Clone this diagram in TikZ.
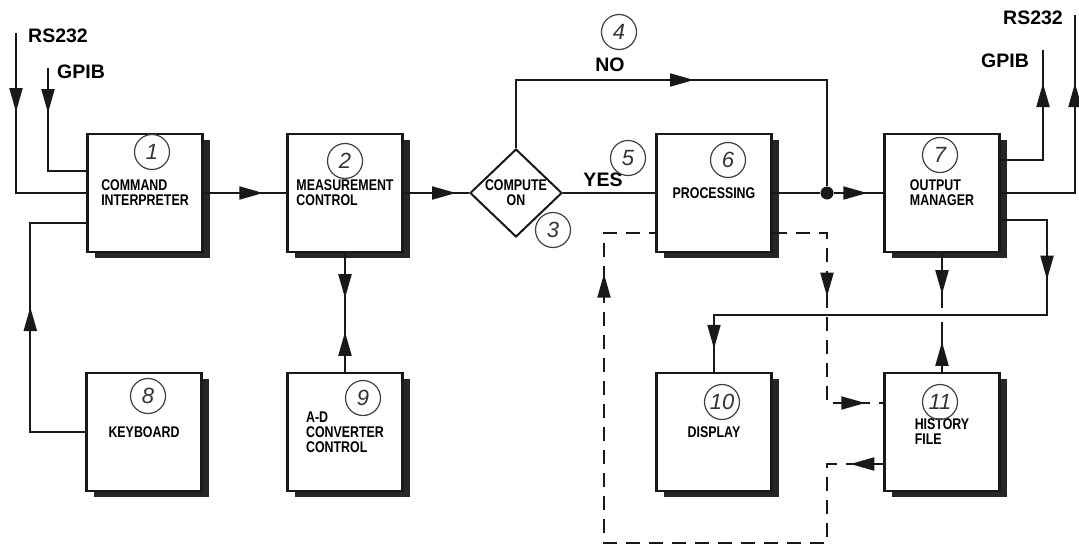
\documentclass[tikz,border=0pt]{standalone}
\usepackage{fontspec}
\setmainfont{Liberation Sans}
\newfontfamily\estrecha[FakeStretch=0.8]{Liberation Sans}
\usetikzlibrary{arrows.meta,shapes.geometric,shadows,decorations.markings,calc}
\tikzset{
  >={Triangle[length=24pt,width=13pt]},
  caja/.style={draw=black!90,line width=2.4pt,fill=white,minimum width=115pt,minimum height=118pt,
    align=left,font=\estrecha\bfseries\fontsize{15.5}{15}\selectfont,
    drop shadow={shadow xshift=7pt,shadow yshift=-6pt,fill=black!85,opacity=1}},
  rombo/.style={diamond,draw=black!90,line width=2pt,minimum width=92pt,minimum height=88pt,
    inner sep=0pt,align=center,font=\estrecha\bfseries\fontsize{15.5}{15}\selectfont},
  num/.style={circle,draw=black!75,line width=1.2pt,minimum size=35pt,inner sep=0pt,
    font=\fontsize{22}{22}\selectfont\itshape,text=black!80},
  etiq/.style={font=\fontsize{19.5}{20}\selectfont\bfseries},
  linea/.style={draw=black!90,line width=2pt},
  discont/.style={linea,dash pattern=on 14pt off 9pt},
  flecha/.style={postaction={decorate,decoration={markings,mark=at position #1 with {\arrow{>}}}}},
  punto/.style={circle,fill=black!90,inner sep=0pt,minimum size=13pt}
}
\begin{document}
\begin{tikzpicture}[x=1pt,y=-1pt]
\useasboundingbox (0,0) rectangle (1079,546);
\node[caja] (ci) at (145,193) {COMMAND\\INTERPRETER};
\node[caja] (mc) at (345,193) {MEASUREMENT\\CONTROL};
\node[rombo] (co) at (516,193) {COMPUTE\\ON};
\node[caja] (pr) at (714,193) {PROCESSING};
\node[caja] (om) at (942,193) {OUTPUT\\MANAGER};
\node[caja] (kb) at (144,432) {KEYBOARD};
\node[caja] (ad) at (345,432) {A-D\\CONVERTER\\CONTROL};
\node[caja] (dp) at (714,432) {DISPLAY};
\node[caja] (hf) at (942,432) {HISTORY\\FILE};
\node[etiq] (rsa) at (58,36) {RS232};
\node[etiq] (gpa) at (81,72) {GPIB};
\node[etiq] (gpb) at (1005,61) {GPIB};
\node[etiq] (rsb) at (1033,18) {RS232};
\node[etiq] (no) at (610,65) {NO};
\node[etiq] (si) at (603,180) {YES};
\node[num] (n1) at (152,152) {1};
\node[num] (n2) at (345,161) {2};
\node[num] (n3) at (553,230) {3};
\node[num] (n4) at (619,32) {4};
\node[num] (n5) at (628,158) {5};
\node[num] (n6) at (728,160) {6};
\node[num] (n7) at (940,155) {7};
\node[num] (n8) at (148,396) {8};
\node[num] (n9) at (363,398) {9};
\node[num] (n10) at (722,402) {10};
\node[num] (n11) at (940,402) {11};
\node[punto] (j) at (827,193) {};
\coordinate (rsIn) at (16,33);
\coordinate (gpIn) at (48,68);
\coordinate (gpOut) at (1043,50);
\coordinate (rsOut) at (1075,15);
\coordinate (cima) at (827,80);
\coordinate (bus) at (1047,315);
\coordinate (corte1) at (942,308);
\coordinate (corte2) at (942,322);
\coordinate (d1) at (827,403);
\coordinate (d2) at (827,543);
\coordinate (d3) at (604,543);
\draw[linea,flecha=79pt] (rsIn) |- (ci.west);
\draw[linea,flecha=45pt] (gpIn) |- ($(ci.west)+(0,-22)$);
\draw[linea,flecha=180pt] (kb.west) -- ++(-55,0) |- ($(ci.west)+(0,30)$);
\draw[linea,flecha=-23pt] (ci) -- (mc);
\draw[linea,flecha=-13pt] (mc) -- (co);
\draw[linea] (co) -- (pr);
\draw[linea,flecha=246pt] (co.north) |- (cima) -- (j);
\draw[linea] (pr) -- (j);
\draw[linea,flecha=-16pt] (j) -- (om);
\draw[linea,flecha=-33pt] ($(om.east)+(0,-33)$) -| (gpOut);
\draw[linea,flecha=-68pt] (om.east) -| (rsOut);
\draw[linea,flecha=106pt,flecha=-23pt] ($(om.east)+(0,27)$) -| (bus) -| (dp.north);
\draw[linea,flecha=41pt] (om.south) -- (corte1);
\draw[linea,flecha=30pt] (hf.north) -- (corte2);
\draw[linea,flecha=45pt] (mc) -- (ad);
\draw[linea,flecha=40pt] (ad) -- (mc);
\draw[discont,flecha=118pt,flecha=-18pt] ($(pr.east)+(0,40)$) -| (d1) -- (d1 -| hf.west);
\draw[discont,flecha=33pt,flecha=-92pt] ($(hf.west)+(0,32)$) -| (d2) -- (d3) |- ($(pr.west)+(0,40)$);
\end{tikzpicture}
\end{document}
